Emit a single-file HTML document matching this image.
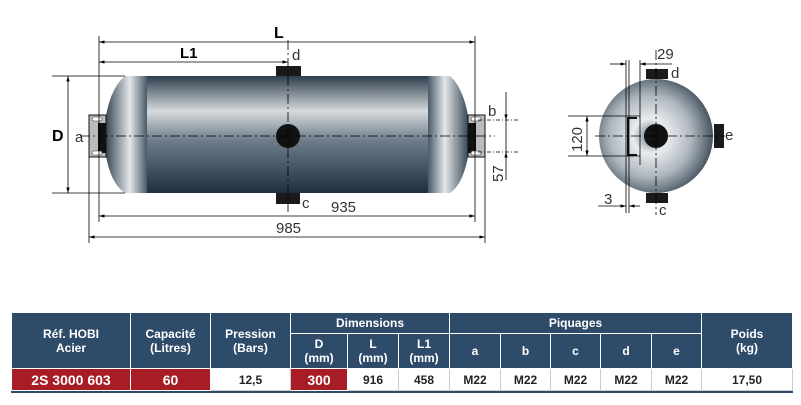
<!DOCTYPE html>
<html><head><style>
body{margin:0;background:#fff;width:801px;height:405px;overflow:hidden;font-family:"Liberation Sans",sans-serif}
svg{position:absolute;left:0;top:0}
table{position:absolute;left:11px;top:312px;width:782px;border-collapse:collapse;font-family:"Liberation Sans",sans-serif;font-size:12px;font-weight:bold;text-align:center}
td{padding:0;border:1px solid #fff}
.h{background:#2f4b6a;color:#fff}
.r{background:#a81d25;color:#fff;font-size:14px}
.w{background:#fff;color:#222;border-color:#ccc}
</style></head><body>
<svg width="801" height="310" viewBox="0 0 801 310">
<defs>
<linearGradient id="g" x1="0" y1="0" x2="0" y2="1">
<stop offset="0" stop-color="#2e3e4c"/><stop offset="0.3" stop-color="#d6dadd"/><stop offset="0.55" stop-color="#6e7d89"/><stop offset="1" stop-color="#1f2f3d"/></linearGradient>
<linearGradient id="cap" x1="0" y1="0" x2="1" y2="0">
<stop offset="0" stop-color="#2a3b4a"/><stop offset="0.6" stop-color="#e4e7ea"/><stop offset="1" stop-color="#4a5a68"/></linearGradient>
<linearGradient id="cap2" x1="1" y1="0" x2="0" y2="0">
<stop offset="0" stop-color="#2a3b4a"/><stop offset="0.6" stop-color="#e4e7ea"/><stop offset="1" stop-color="#4a5a68"/></linearGradient>
<radialGradient id="sp" cx="0.45" cy="0.5" r="0.6"><stop offset="0" stop-color="#6a7c8c"/><stop offset="0.25" stop-color="#e8ecef"/><stop offset="0.6" stop-color="#aeb6bd"/><stop offset="1" stop-color="#2b3b4a"/></radialGradient>
<marker id="a" viewBox="0 0 10 10" refX="10" refY="5" markerWidth="7" markerHeight="7" orient="auto-start-reverse"><path d="M0,2L10,5L0,8z" fill="#000"/></marker>
</defs>
<!-- tank -->
<path d="M125,76 Q108,90 104,130 L104,142 Q108,182 125,193 L147,193 L147,76 Z" fill="url(#cap)"/>
<rect x="147" y="76" width="281" height="117" fill="url(#g)"/>
<path d="M428,76 L450,76 Q466,90 470,130 L470,142 Q466,182 450,193 L428,193 Z" fill="url(#cap2)"/>
<rect x="89" y="115" width="17" height="42" fill="#bbb" stroke="#111"/>
<rect x="98" y="123" width="8" height="30" fill="#111"/>
<rect x="92" y="117" width="10" height="4" rx="2" fill="#fff" stroke="#333" stroke-width=".6"/>
<rect x="92" y="151" width="10" height="4" rx="2" fill="#fff" stroke="#333" stroke-width=".6"/>
<rect x="468" y="115" width="17" height="42" fill="#bbb" stroke="#111"/>
<rect x="468" y="123" width="8" height="30" fill="#111"/>
<rect x="471" y="117" width="10" height="4" rx="2" fill="#fff" stroke="#333" stroke-width=".6"/>
<rect x="471" y="151" width="10" height="4" rx="2" fill="#fff" stroke="#333" stroke-width=".6"/>
<rect x="276" y="66" width="25" height="10" fill="#1a1a1a"/>
<rect x="276" y="193" width="24" height="11" fill="#1a1a1a"/>
<circle cx="288" cy="136" r="12" fill="#111"/>
<g stroke="#000" stroke-width="0.8" fill="none">
<line x1="80" y1="136" x2="495" y2="136" stroke-dasharray="10,3,2,3"/>
<line x1="288" y1="40" x2="288" y2="212" stroke-dasharray="10,3,2,3"/>
<line x1="99" y1="36" x2="99" y2="222"/><line x1="475" y1="36" x2="475" y2="222"/>
<line x1="89" y1="157" x2="89" y2="243"/><line x1="485" y1="157" x2="485" y2="243"/>
<line x1="99" y1="42" x2="475" y2="42" marker-start="url(#a)" marker-end="url(#a)"/>
<line x1="99" y1="62" x2="288" y2="62" marker-start="url(#a)" marker-end="url(#a)"/>
<line x1="99" y1="216" x2="475" y2="216" marker-start="url(#a)" marker-end="url(#a)"/>
<line x1="89" y1="237" x2="485" y2="237" marker-start="url(#a)" marker-end="url(#a)"/>
<line x1="52" y1="76" x2="125" y2="76"/><line x1="52" y1="193" x2="125" y2="193"/>
<line x1="68" y1="76" x2="68" y2="193" marker-start="url(#a)" marker-end="url(#a)"/>
<line x1="478" y1="120" x2="520" y2="120" stroke-dasharray="4,2,1,2"/>
<line x1="478" y1="152" x2="520" y2="152" stroke-dasharray="4,2,1,2"/>
<line x1="506" y1="92" x2="506" y2="120" marker-end="url(#a)"/>
<line x1="506" y1="180" x2="506" y2="152" marker-end="url(#a)"/>
<line x1="506" y1="120" x2="506" y2="152"/>
</g>
<g font-size="15" fill="#000">
<text x="274" y="38" font-weight="bold" font-size="16">L</text>
<text x="180" y="58" font-weight="bold">L1</text>
<text x="292" y="60" fill="#333">d</text>
<text x="52" y="141" font-weight="bold" font-size="16">D</text>
<text x="75" y="142" fill="#333">a</text>
<text x="488" y="116" fill="#333">b</text>
<text x="302" y="208" fill="#333">c</text>
<text x="331" y="212" fill="#333">935</text>
<text x="276" y="233" fill="#333">985</text>
<text transform="translate(503,182) rotate(-90)" fill="#333">57</text>
</g>
<!-- end view -->
<rect x="646" y="69" width="22" height="10" fill="#1a1a1a"/>
<rect x="646" y="193" width="22" height="10" fill="#1a1a1a"/>
<rect x="714" y="124" width="10" height="24" fill="#1a1a1a"/>
<circle cx="656" cy="136" r="57" fill="url(#sp)"/>
<circle cx="656" cy="136" r="12" fill="#111"/>
<path d="M637,118 L628,118 L628,155 L637,155" stroke="#111" stroke-width="2" fill="none"/>
<g stroke="#000" stroke-width="0.8" fill="none">
<line x1="595" y1="136" x2="725" y2="136" stroke-dasharray="10,3,2,3"/>
<line x1="656" y1="50" x2="656" y2="215" stroke-dasharray="10,3,2,3"/>
<line x1="626" y1="60" x2="626" y2="213"/><line x1="629" y1="60" x2="629" y2="213"/>
<line x1="640" y1="60" x2="640" y2="165"/>
<line x1="610" y1="64" x2="626" y2="64" marker-end="url(#a)"/>
<line x1="672" y1="64" x2="640" y2="64" marker-end="url(#a)"/>
<line x1="598" y1="206" x2="626" y2="206" marker-end="url(#a)"/>
<line x1="640" y1="206" x2="629" y2="206" marker-end="url(#a)"/>
<line x1="568" y1="116" x2="640" y2="116"/><line x1="568" y1="156" x2="640" y2="156"/>
<line x1="587" y1="116" x2="587" y2="156" marker-start="url(#a)" marker-end="url(#a)"/>
</g>
<g font-size="15" fill="#333">
<text x="657" y="59">29</text>
<text x="671" y="78">d</text>
<text x="725" y="140">e</text>
<text x="659" y="215">c</text>
<text x="604" y="204">3</text>
<text transform="translate(582,152) rotate(-90)">120</text>
</g>
</svg>
<table>
<tr style="height:21px" class="h"><td rowspan="2" style="width:118px">Réf. HOBI<br>Acier</td><td rowspan="2" style="width:79px">Capacité<br>(Litres)</td><td rowspan="2" style="width:79px">Pression<br>(Bars)</td><td colspan="3">Dimensions</td><td colspan="5">Piquages</td><td rowspan="2">Poids<br>(kg)</td></tr>
<tr style="height:35px" class="h"><td style="width:56px">D<br>(mm)</td><td style="width:50px">L<br>(mm)</td><td style="width:50px">L1<br>(mm)</td><td style="width:50px">a</td><td style="width:49px">b</td><td style="width:49px">c</td><td style="width:50px">d</td><td style="width:49px">e</td></tr>
<tr style="height:22px"><td class="r">2S 3000 603</td><td class="r">60</td><td class="w">12,5</td><td class="r">300</td><td class="w">916</td><td class="w">458</td><td class="w">M22</td><td class="w">M22</td><td class="w">M22</td><td class="w">M22</td><td class="w">M22</td><td class="w">17,50</td></tr>
</table>
<div style="position:absolute;left:11px;top:391px;width:782px;height:2px;background:#2f4b6a"></div>
</body></html>
